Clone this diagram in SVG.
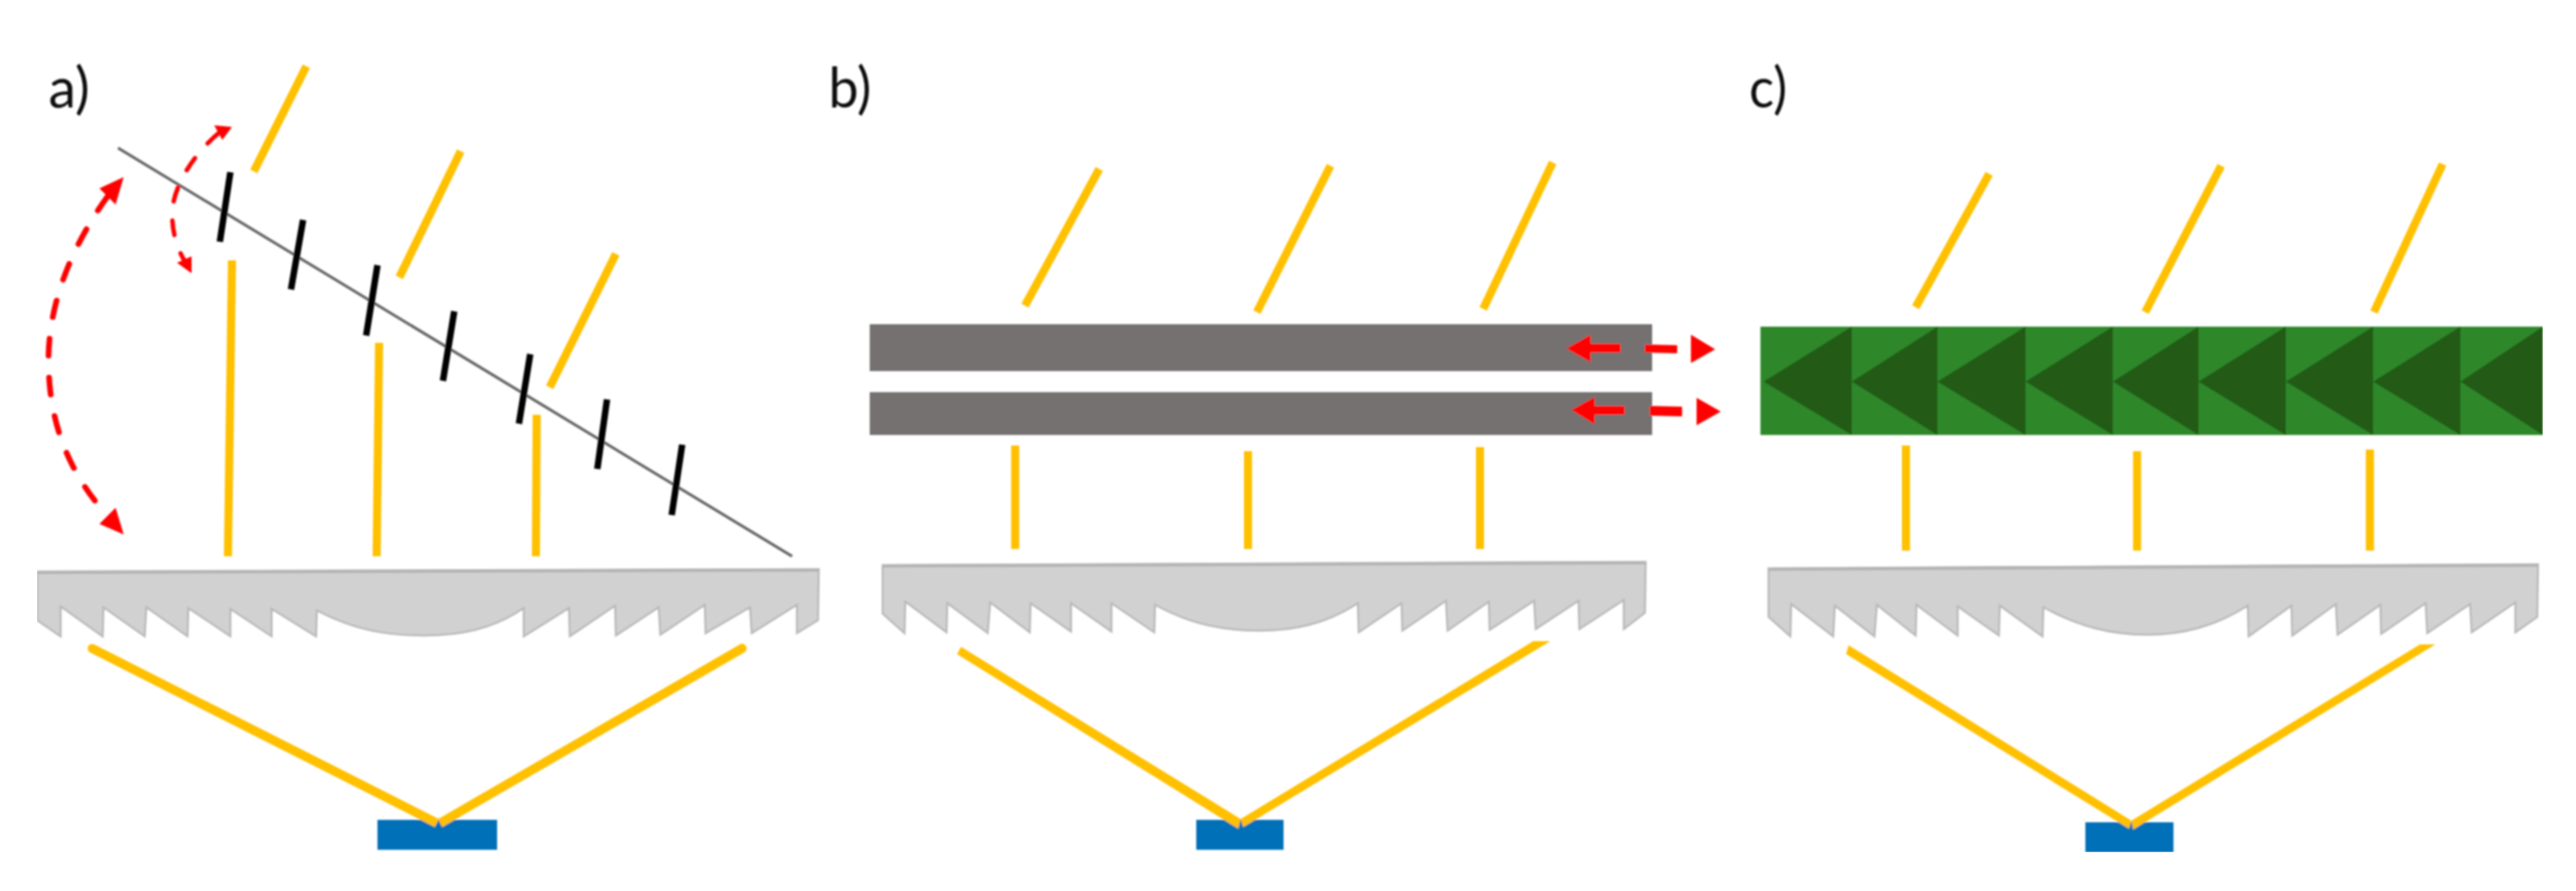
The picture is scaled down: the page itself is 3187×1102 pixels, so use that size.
<svg xmlns="http://www.w3.org/2000/svg" width="3187" height="1102" viewBox="0 0 3187 1102">
<defs><filter id="soft" x="0" y="0" width="100%" height="100%"><feGaussianBlur stdDeviation="0.8"/></filter></defs>
<style>
.lens{fill:#d1d1d1;stroke:#b9b9b9;stroke-width:2.5;stroke-linejoin:miter}
.top{fill:none;stroke:#b4b4b4;stroke-width:4}
.ray{fill:none;stroke:#ffc000;stroke-width:10;stroke-linecap:butt}
.rayp{fill:#ffc000}
.tick{stroke:#000;stroke-width:8;stroke-linecap:butt}
.rail{fill:#767171}
.det{fill:#0070b8}
.red{fill:#ff0000}
.arc{fill:none;stroke:#ff0000;stroke-linecap:round}
.lab{font-family:"Lato","Open Sans",sans-serif;font-size:70px;fill:#111}
.lt{fill:#2e882c}
.dk{fill:#215a18}
</style>
<rect width="3187" height="1102" fill="#fff"/>
<g filter="url(#soft)">
<g id="labels">
<text class="lab" x="60" y="133" textLength="51" lengthAdjust="spacingAndGlyphs">a)</text>
<text class="lab" x="1025" y="133" textLength="53" lengthAdjust="spacingAndGlyphs">b)</text>
<text class="lab" x="2164" y="133" textLength="47" lengthAdjust="spacingAndGlyphs">c)</text>
</g>

<g id="panel-a-grating">
<path d="M146 183L980 688" stroke="#666" stroke-width="3.5" fill="none"/>
<path class="tick" d="M285 213L272 299M375 272L360 358M467 328L453 415M562 385L548 471M656 438L642 524M751 494L739 580M844 550L831 637"/>
</g>

<g id="panel-a-lens">
<path class="lens" d="M46 707L1013 704L1012 767L986 783L986 748L930 783L928 751L873 783L872 748L817 785L815 751L762 786L761 749L705 787L704 752L648 787L648 752C610 778 570 786 524 786C480 786 440 780 392 755L391 787L336 753L336 787L285 753L285 787L233 752L232 787L181 751L179 787L128 751L127 787L75 750L75 787L46 767Z"/>
<path class="top" d="M46 708L1013 705"/>
</g>
<rect id="panel-a-detector" class="det" x="467" y="1014" width="148" height="37"/>

<g id="panel-b-rails">
<rect class="rail" x="1076" y="401" width="968" height="58"/>
<rect class="rail" x="1076" y="485" width="968" height="53"/>
</g>
<g id="panel-b-lens">
<path class="lens" d="M1092 699L2036 695L2035 758L2009 778L2009 742L1954 778L1953 743L1900 778L1898 743L1843 779L1842 744L1791 780L1789 743L1735 780L1734 746L1681 782L1680 746C1640 772 1600 780 1558 780C1515 780 1475 773 1429 748L1428 782L1375 746L1375 781L1325 746L1325 781L1275 746L1274 782L1225 745L1222 783L1172 746L1171 782L1120 744L1119 783L1092 759Z"/>
<path class="top" d="M1092 700L2036 696"/>
</g>
<rect id="panel-b-detector" class="det" x="1480" y="1014" width="108" height="37"/>

<g id="panel-c-prisms">
<rect class="lt" x="2178" y="404" width="968" height="134"/>
<path class="dk" d="M2182 472L2291 404V538ZM2291 472L2397 404V538ZM2397 472L2506 404V538ZM2506 472L2614 404V538ZM2614 472L2720 404V538ZM2720 472L2828 404V538ZM2828 472L2936 404V538ZM2936 472L3044 404V538ZM3044 472L3146 404V538Z"/>
</g>
<g id="panel-c-lens">
<path class="lens" d="M2188 703L3140 698L3139 763L3112 782L3112 745L3058 782L3056 747L3003 783L3001 746L2946 784L2945 748L2892 785L2890 747L2836 786L2835 749L2782 787L2781 749C2740 775 2700 785 2656 785C2612 785 2572 775 2528 751L2527 787L2474 749L2473 786L2422 750L2422 786L2371 748L2370 786L2322 748L2319 787L2270 749L2268 787L2216 747L2215 787L2188 763Z"/>
<path class="top" d="M2188 704L3140 699"/>
</g>
<rect id="panel-c-detector" class="det" x="2580" y="1017" width="109" height="37"/>

<g id="connectors">
<path class="ray" d="M379 82L314 212M570 187L494 343M762 314L680 479M287 322L282 688M469 424L466 688M664 513L663 688"/>
<path class="rayp" d="M116.5 797L543 1013L538 1023L111.5 807A5.5 5.5 0 0 1 116.5 797Z"/>
<path class="rayp" d="M915.3 797L542 1013L547 1023L920.7 807A5.5 5.5 0 0 0 915.3 797Z"/>
<path class="ray" d="M1360 209L1268 378M1646 205L1555 386M1921 201L1835 382M1256 551V679M1544 558V679M1831 553V679"/>
<polygon class="rayp" points="1189,800 1184,809 1532,1025 1535,1013"/>
<polygon class="rayp" points="1897,793 1918,793 1538,1023 1535,1013"/>
<path class="ray" d="M2461 215L2370 380M2748 205L2654 386M3022 203L2937 386M2358 551V681M2644 558V681M2932 556V681"/>
<polygon class="rayp" points="2287,798 2284,809 2634,1025 2637,1015"/>
<polygon class="rayp" points="2994,797 3013,797 2639,1026 2637,1015"/>
</g>

<g id="red-arrows">
<path class="arc" stroke-width="7" stroke-dasharray="21 27" d="M133 243C85 310 60 380 60 445C60 530 90 590 133 638"/>
<polygon class="red" points="153,219 143,253 133,243 123,233"/>
<polygon class="red" points="153,661 123,648 133,638 143,628"/>
<path class="arc" stroke-width="5.5" stroke-dasharray="18 24" d="M270 165C235 195 213 235 213 265C213 285 218 305 228 322"/>
<polygon class="red" points="287,157 265,155 270,164 275,173"/>
<polygon class="red" points="237,338 219,325 228,321 237,317"/>
<path class="red" d="M1938 431L1968 414V425H2005V436H1968V448ZM2035 426L2075 427V437L2035 436ZM2092 414L2122 432L2092 449Z"/>
<path class="red" d="M1944 507L1973 491V502H2010V513H1973V525ZM2041 502L2081 503V515L2041 514ZM2099 492L2129 509L2099 526Z"/>
</g>
</g>
</svg>
